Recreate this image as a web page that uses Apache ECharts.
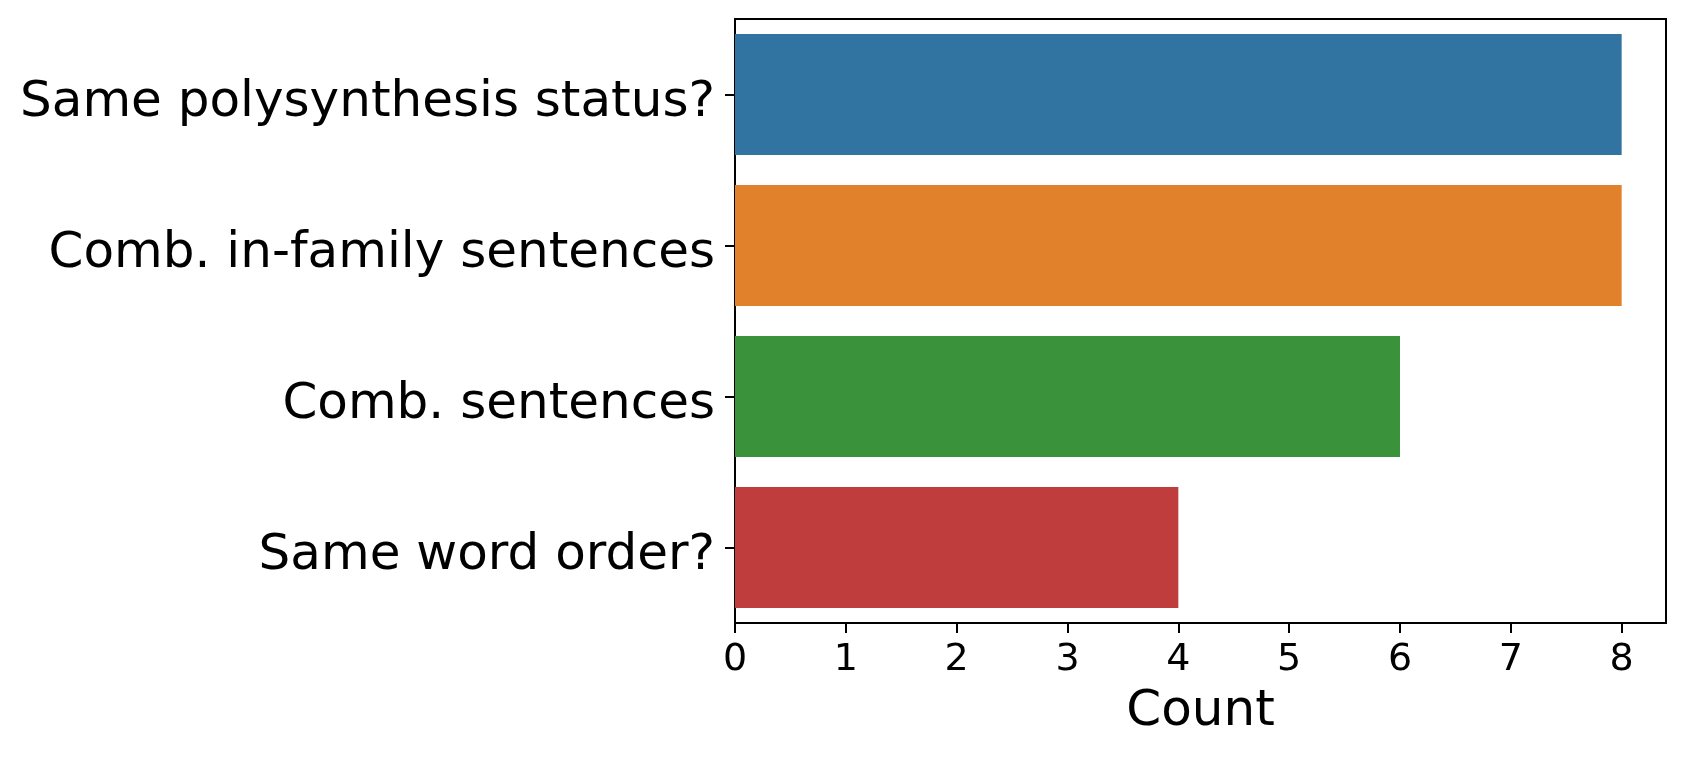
<!DOCTYPE html>
<html>
<head>
<meta charset="utf-8">
<script src="https://cdn.jsdelivr.net/npm/echarts@6/dist/echarts.min.js"></script>
<style>
  html, body { margin: 0; padding: 0; background: #fff; }
  #chart { width: 1685px; height: 760px; }
</style>
</head>
<body>
<div id="chart"></div>
<script>
// 数据
var categories = ['Same polysynthesis status?', 'Comb. in-family sentences', 'Comb. sentences', 'Same word order?'];
var counts = [8, 8, 6, 4];
var barColors = ['#3274a1', '#e1812c', '#3a923a', '#c03d3e'];
var xTicks = [0, 1, 2, 3, 4, 5, 6, 7, 8];

var chart = echarts.init(document.getElementById('chart'));

var option = {
    animation: false,
    textStyle: { fontFamily: 'DejaVu Sans' },
    grid: {
        left: 735, top: 19, width: 931, height: 604,
        show: true, borderColor: '#000', borderWidth: 2,
        containLabel: false
    },
    xAxis: {
        type: 'value',
        min: 0,
        max: 8.4,
        interval: 1,
        name: 'Count',
        nameLocation: 'middle',
        nameGap: 64,
        nameTextStyle: { fontSize: 50, color: '#000', fontFamily: 'DejaVu Sans' },
        splitLine: { show: false },
        axisLine: { show: true, lineStyle: { color: '#000', width: 2 } },
        axisTick: { show: true, length: 10, lineStyle: { color: '#000', width: 2 }, customValues: xTicks },
        axisLabel: { fontSize: 38, color: '#000', margin: 18, customValues: xTicks }
    },
    yAxis: {
        type: 'category',
        data: categories,
        inverse: true,
        axisLine: { show: true, lineStyle: { color: '#000', width: 2 } },
        axisTick: { show: true, alignWithLabel: true, length: 10, lineStyle: { color: '#000', width: 2 } },
        axisLabel: {
            margin: 20, interval: 0,
            formatter: function(v) { return '{t|' + v + '}'; },
            rich: { t: { fontSize: 50, color: '#000', fontFamily: 'DejaVu Sans', padding: [17, 0, 0, 0] } }
        },
        splitLine: { show: false }
    },
    series: [{
        type: 'bar',
        barCategoryGap: '20%',
        data: counts.map(function(v, i) {
            return { value: v, itemStyle: { color: barColors[i] } };
        })
    }]
};

chart.setOption(option);
</script>
</body>
</html>
